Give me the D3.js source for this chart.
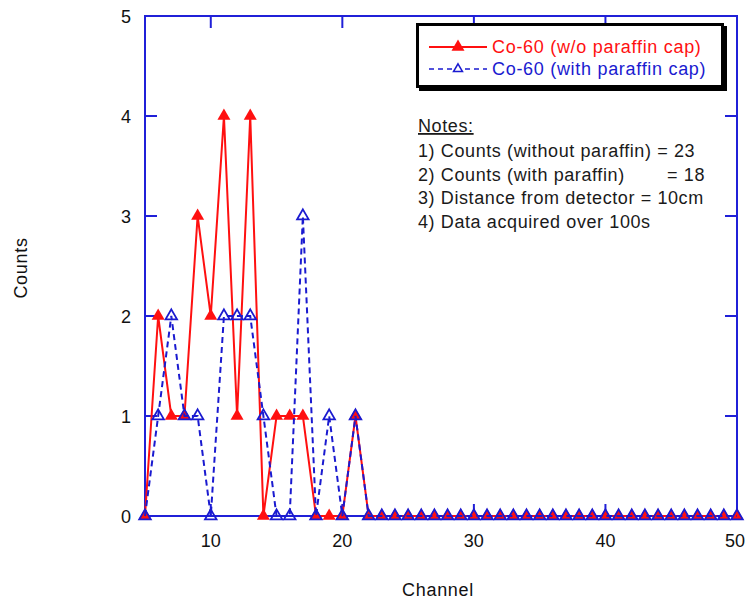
<!DOCTYPE html>
<html>
<head>
<meta charset="utf-8">
<script src="https://cdn.jsdelivr.net/npm/d3@7"></script>
<style>
  html, body { margin: 0; padding: 0; background: #fff; }
  svg { display: block; font-family: "Liberation Sans", Arial, sans-serif; }
</style>
</head>
<body>
<svg id="chart" width="746" height="602"></svg>
<script>
// Channel numbers and gamma counts per channel
const channels = d3.range(5, 51);
const countsNoParaffin = [0, 2, 1, 1, 3, 2, 4, 1, 4, 0, 1, 1, 1, 0, 0, 0, 1,
  0, 0, 0, 0, 0, 0, 0, 0, 0, 0, 0, 0, 0, 0, 0, 0, 0, 0, 0, 0, 0, 0, 0, 0, 0, 0, 0, 0, 0];
const countsWithParaffin = [0, 1, 2, 1, 1, 0, 2, 2, 2, 1, 0, 0, 3, 0, 1, 0, 1,
  0, 0, 0, 0, 0, 0, 0, 0, 0, 0, 0, 0, 0, 0, 0, 0, 0, 0, 0, 0, 0, 0, 0, 0, 0, 0, 0, 0, 0];
const xTicks = [10, 20, 30, 40, 50];
const yTicks = [0, 1, 2, 3, 4, 5];
const seriesNames = ["Co-60 (w/o paraffin cap)", "Co-60 (with paraffin cap)"];
const notes = [
  "1) Counts (without paraffin) = 23",
  "2) Counts (with paraffin)",
  "3) Distance from detector = 10cm",
  "4) Data acquired over 100s"
];

const svg = d3.select("#chart");
const axisColor = "#2020d8";
const red = "#ff1010";
const blue = "#1a1ad0";

const plotL = 145, plotR = 737, plotT = 16, plotB = 516;
const x = d3.scaleLinear().domain([5, 50]).range([plotL, plotR]);
const y = d3.scaleLinear().domain([0, 5]).range([plotB, plotT]);

// Frame with inward ticks on all four sides
const tickLen = 12;
const frame = svg.append("g").attr("stroke", axisColor).attr("stroke-width", 2).attr("fill", "none");
frame.append("rect").attr("x", plotL).attr("y", plotT).attr("width", plotR - plotL).attr("height", plotB - plotT);
xTicks.filter(t => t < 50).forEach(t => {
  frame.append("line").attr("x1", x(t)).attr("x2", x(t)).attr("y1", plotB).attr("y2", plotB - tickLen);
  frame.append("line").attr("x1", x(t)).attr("x2", x(t)).attr("y1", plotT).attr("y2", plotT + tickLen);
});
yTicks.filter(t => t > 0 && t < 5).forEach(t => {
  frame.append("line").attr("x1", plotL).attr("x2", plotL + tickLen).attr("y1", y(t)).attr("y2", y(t));
  frame.append("line").attr("x1", plotR).attr("x2", plotR - tickLen).attr("y1", y(t)).attr("y2", y(t));
});

// Tick labels
svg.append("g").selectAll("text").data(xTicks).join("text")
  .attr("x", d => Math.min(x(d), 735)).attr("y", 547)
  .attr("text-anchor", "middle").attr("font-size", 18).attr("fill", "#111")
  .text(d => d);
svg.append("g").selectAll("text").data(yTicks).join("text")
  .attr("x", 131).attr("y", d => y(d) + 6.5)
  .attr("text-anchor", "end").attr("font-size", 18).attr("fill", "#111")
  .text(d => d);

// Axis titles
svg.append("text").attr("x", 438).attr("y", 596).attr("text-anchor", "middle")
  .attr("font-size", 18).attr("letter-spacing", 0.7).attr("fill", "#111").text("Channel");
svg.append("text").attr("transform", "translate(27,268) rotate(-90)").attr("text-anchor", "middle")
  .attr("font-size", 18).attr("letter-spacing", 0.7).attr("fill", "#111").text("Counts");

const tri = (w) => d3.symbol().type(d3.symbolTriangle).size(Math.sqrt(3) / 4 * w * w)();

const line = d3.line().x((d, i) => x(channels[i])).y(d => y(d));

// Series without paraffin cap: solid red line, filled triangles
svg.append("path").datum(countsNoParaffin).attr("d", line)
  .attr("fill", "none").attr("stroke", red).attr("stroke-width", 2);
svg.append("g").selectAll("path").data(countsNoParaffin).join("path")
  .attr("d", tri(13))
  .attr("transform", (d, i) => `translate(${x(channels[i])},${y(d)})`)
  .attr("fill", red);

// Series with paraffin cap: dashed blue line, open triangles
svg.append("path").datum(countsWithParaffin).attr("d", line)
  .attr("fill", "none").attr("stroke", blue).attr("stroke-width", 2)
  .attr("stroke-dasharray", "6,4");
svg.append("g").selectAll("path").data(countsWithParaffin).join("path")
  .attr("d", tri(11.5))
  .attr("transform", (d, i) => `translate(${x(channels[i])},${y(d)})`)
  .attr("fill", "none").attr("stroke", blue).attr("stroke-width", 1.8);

// Legend box with drop shadow
const lg = svg.append("g");
lg.append("rect").attr("x", 419).attr("y", 26).attr("width", 308).attr("height", 65).attr("fill", "#000");
lg.append("rect").attr("x", 417.5).attr("y", 24.5).attr("width", 305).attr("height", 62)
  .attr("fill", "#fff").attr("stroke", "#000").attr("stroke-width", 3);
lg.append("line").attr("x1", 429).attr("x2", 487).attr("y1", 47).attr("y2", 47)
  .attr("stroke", red).attr("stroke-width", 2);
lg.append("path").attr("d", tri(13)).attr("transform", "translate(458,47)").attr("fill", red);
lg.append("line").attr("x1", 429).attr("x2", 487).attr("y1", 69).attr("y2", 69)
  .attr("stroke", blue).attr("stroke-width", 1.5).attr("stroke-dasharray", "5,4");
lg.append("path").attr("d", tri(9)).attr("transform", "translate(458,69)")
  .attr("fill", "#fff").attr("stroke", blue).attr("stroke-width", 1.5);
lg.append("text").attr("x", 492).attr("y", 53).attr("font-size", 18).attr("letter-spacing", 0.7)
  .attr("fill", red).text(seriesNames[0]);
lg.append("text").attr("x", 492).attr("y", 75).attr("font-size", 18).attr("letter-spacing", 0.7)
  .attr("fill", blue).text(seriesNames[1]);

// Notes block
const nt = svg.append("g").attr("font-size", 18).attr("letter-spacing", 0.6).attr("fill", "#1a1a1a");
nt.append("text").attr("x", 418).attr("y", 132).attr("text-decoration", "underline").text("Notes:");
notes.forEach((s, i) => {
  nt.append("text").attr("x", 418).attr("y", 157 + i * 23.5).text(s);
});
nt.append("text").attr("x", 705).attr("y", 180.5).attr("text-anchor", "end").text("= 18");
</script>
</body>
</html>
